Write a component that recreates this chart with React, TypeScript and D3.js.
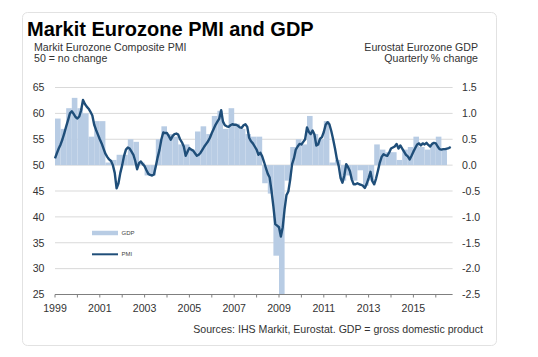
import React from "react";
import * as d3 from "d3";

const TITLE = "Markit Eurozone PMI and GDP";
const LEFT_SUB = ["Markit Eurozone Composite PMI", "50 = no change"];
const RIGHT_SUB = ["Eurostat Eurozone GDP", "Quarterly % change"];
const SOURCE = "Sources: IHS Markit, Eurostat. GDP = gross domestic product";

const START_YEAR = 1999;
const END_YEAR = 2016.75;
const LEFT_TICKS = [25, 30, 35, 40, 45, 50, 55, 60, 65];
const RIGHT_TICKS = [-2.5, -2.0, -1.5, -1.0, -0.5, 0.0, 0.5, 1.0, 1.5];
const YEAR_TICKS = d3.range(1999, 2017);
const YEAR_LABELS = [1999, 2001, 2003, 2005, 2007, 2009, 2011, 2013, 2015];

// Monthly composite PMI, Jan 1999 onward
const PMI = [
  51.3, 52.3, 53.2, 54.0, 55.0, 56.2, 57.5, 58.7, 60.0, 60.4, 59.9, 59.3,
  59.0, 59.4, 60.6, 62.6, 61.8, 61.3, 60.9, 60.3, 59.6, 57.8, 56.8, 55.9,
  55.0, 54.2, 53.2, 52.2, 51.6, 51.1, 50.8, 50.0, 48.5, 45.5, 46.5, 48.5,
  50.0, 51.8, 53.0, 53.4, 53.2, 52.6, 52.0, 50.8, 49.2, 50.4, 50.7, 50.2,
  49.8, 49.0, 48.3, 48.1, 48.0, 48.2, 49.8, 51.5, 53.0, 55.0, 56.3, 56.2,
  56.2, 55.6, 54.9, 55.6, 56.0, 56.1, 55.9, 55.0, 54.4, 53.6, 51.8, 52.6,
  53.3, 53.0, 52.8, 52.3, 51.8, 52.0, 52.4, 53.0, 53.6, 54.1, 54.6, 55.3,
  56.2, 57.0, 57.8, 58.4, 59.0, 60.6, 58.4, 57.7, 57.5, 57.4, 57.7, 57.9,
  57.8, 57.8, 57.6, 57.3, 57.2, 57.7, 57.9, 57.4, 55.3, 54.6, 54.2, 53.6,
  53.0, 52.0, 52.4, 51.7, 50.6, 49.4, 48.3, 47.6, 45.0, 42.0, 38.6, 38.3,
  38.0, 36.2, 38.0, 41.5, 44.2, 44.9, 47.2, 50.2, 51.3, 53.0, 53.6, 54.1,
  54.0, 54.5, 55.0, 57.3, 56.4, 56.0, 56.7, 55.9, 53.8, 54.0, 55.1, 55.4,
  56.4, 57.8, 58.3, 57.9, 56.6, 55.0, 53.2, 51.2, 49.8, 47.5, 46.6, 48.0,
  50.2, 49.6, 48.8, 47.2, 46.3, 46.3, 46.5, 46.3, 46.2, 46.0, 45.6, 46.4,
  47.5, 48.7, 46.9, 46.3, 47.4, 48.9, 50.5, 51.6, 52.1, 51.9, 51.8, 52.4,
  53.2, 53.4, 53.6, 54.1, 53.2, 53.8, 53.2, 52.6, 52.0, 51.7, 51.1, 51.8,
  52.6, 53.3, 54.0, 54.2, 53.8, 54.2, 54.0, 54.3, 53.9, 53.6, 54.1, 54.3,
  54.2, 53.6, 53.1, 53.0, 53.1, 53.1, 53.2, 53.3, 53.5,
];

// Quarterly GDP % change, 1999 Q1 onward
const GDP = [
  0.9, 0.7, 1.1, 1.3,
  1.1, 1.0, 0.55, 0.85,
  0.85, 0.05, 0.1, 0.2,
  0.2, 0.5, 0.45, 0.05,
  -0.2, -0.2, 0.5, 0.75,
  0.6, 0.55, 0.4, 0.4,
  0.3, 0.65, 0.75, 0.6,
  0.95, 1.05, 0.7, 1.1,
  0.8, 0.7, 0.6, 0.55,
  0.55, -0.35, -0.55, -1.75,
  -2.5, -0.3, 0.35, 0.5,
  0.4, 0.95, 0.6, 0.5,
  0.85, 0.05, 0.1, -0.3,
  -0.2, -0.3, -0.1, -0.4,
  -0.3, 0.4, 0.3, 0.25,
  0.25, 0.1, 0.3, 0.35,
  0.55, 0.35, 0.3, 0.4,
  0.55, 0.3,
];

const FONT = "'Liberation Sans', Arial, Helvetica, sans-serif";

export default function App() {
  const W = 538;
  const H = 357;
  const x = d3.scaleLinear().domain([START_YEAR, END_YEAR]).range([55, 452.6]);
  const y = d3.scaleLinear().domain([25, 65]).range([294.5, 87.5]);
  const yR = d3.scaleLinear().domain([-2.5, 1.5]).range([294.5, 87.5]);

  const line = d3
    .line<number>()
    .x((_, i) => x(START_YEAR + i / 12))
    .y((d) => y(d))
    .curve(d3.curveLinear);

  const [x0, x1] = x.range();

  return (
    <svg
      width={W}
      height={H}
      style={{ position: "absolute", left: 0, top: 0, background: "#fff" }}
      fontFamily={FONT}
    >
      <rect x={22.5} y={12.5} width={474} height={333} rx={5} fill="#fff" stroke="#e2e2e2" />
      <text x={27} y={36} fontSize={20} fontWeight="bold" fill="#000">
        {TITLE}
      </text>
      {LEFT_SUB.map((t, i) => (
        <text key={t} x={34} y={51 + i * 11} fontSize={10.6} fill="#333">
          {t}
        </text>
      ))}
      {RIGHT_SUB.map((t, i) => (
        <text key={t} x={478} y={51 + i * 11} fontSize={10.6} fill="#333" textAnchor="end">
          {t}
        </text>
      ))}

      {/* gridlines */}
      {LEFT_TICKS.filter((t) => t !== 25).map((t) => (
        <line key={t} x1={x0} x2={x1} y1={y(t)} y2={y(t)} stroke="#d9d9d9" strokeWidth={1} />
      ))}

      {/* GDP bars */}
      {GDP.map((g, q) => {
        const xa = x(START_YEAR + q / 4);
        const xb = x(START_YEAR + (q + 1) / 4);
        const ya = yR(Math.max(0, g));
        const yb = yR(Math.min(0, g));
        return <rect key={q} x={xa} y={ya} width={xb - xa} height={yb - ya} fill="#b8cce4" />;
      })}

      {/* PMI line */}
      <path d={line(PMI) || ""} fill="none" stroke="#1f4e79" strokeWidth={2.4} strokeLinejoin="round" />

      {/* x axis */}
      <line x1={x0} x2={x1} y1={y(25)} y2={y(25)} stroke="#7f7f7f" strokeWidth={1} />
      {YEAR_TICKS.map((yr) => (
        <line key={yr} x1={x(yr)} x2={x(yr)} y1={y(25)} y2={y(25) + 3} stroke="#7f7f7f" />
      ))}
      {YEAR_LABELS.map((yr) => (
        <text key={yr} x={x(yr)} y={311.5} fontSize={10.6} fill="#333" textAnchor="middle">
          {yr}
        </text>
      ))}

      {/* left axis labels */}
      {LEFT_TICKS.map((t) => (
        <text key={t} x={44.5} y={y(t) + 3.8} fontSize={10.6} fill="#333" textAnchor="end">
          {t}
        </text>
      ))}
      {/* right axis labels */}
      {RIGHT_TICKS.map((t) => (
        <text key={t} x={462} y={yR(t) + 3.8} fontSize={10.6} fill="#333">
          {d3.format(".1f")(t).replace("−", "-")}
        </text>
      ))}

      {/* legend */}
      <line x1={92} x2={118} y1={233} y2={233} stroke="#b8cce4" strokeWidth={4.5} />
      <text x={121.5} y={235} fontSize={6} fill="#444">GDP</text>
      <line x1={92} x2={118} y1={254.3} y2={254.3} stroke="#1f4e79" strokeWidth={2} />
      <text x={121.5} y={256.3} fontSize={6} fill="#444">PMI</text>

      <text x={483} y={332.5} fontSize={10.6} fill="#333" textAnchor="end">
        {SOURCE}
      </text>
    </svg>
  );
}
